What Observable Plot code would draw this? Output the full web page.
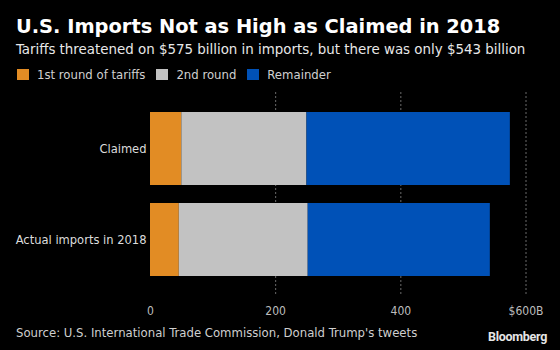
<!DOCTYPE html>
<html>
<head>
<meta charset="utf-8">
<script src="https://cdn.jsdelivr.net/npm/d3@7"></script>
<script src="https://cdn.jsdelivr.net/npm/@observablehq/plot@0.6"></script>
<style>
  html, body { margin: 0; padding: 0; background: #000; }
  #wrap { position: relative; width: 560px; height: 350px; background: #000; overflow: hidden; font-family: "DejaVu Sans Condensed", "DejaVu Sans", sans-serif; }
  .abs { position: absolute; line-height: 1; white-space: nowrap; }
  #title { left: 16px; top: 17px; font-family: "DejaVu Sans", sans-serif; font-weight: bold; font-size: 19.4px; color: #fff; }
  #subtitle { left: 16px; top: 41.5px; font-size: 14.9px; color: #e8e8e8; }
  #legend { left: 17px; top: 68px; font-size: 13px; color: #d0d0d0; display: flex; align-items: center; }
  #legend .item { display: flex; align-items: center; margin-right: 11px; }
  #legend .sw { width: 12px; height: 11px; margin-right: 8px; }
  #chart { position: absolute; left: 0; top: 88px; }
  #source { left: 16px; top: 326px; font-size: 13px; color: #cfcfcf; }
  #logo { right: 13px; top: 331px; font-family: Roboto, "Liberation Sans", sans-serif; font-weight: bold; font-size: 12.5px; color: #e6e6e6; letter-spacing: -0.3px; }
</style>
</head>
<body>
<div id="wrap">
  <div id="title" class="abs"></div>
  <div id="subtitle" class="abs"></div>
  <div id="legend" class="abs"></div>
  <div id="chart"></div>
  <div id="source" class="abs"></div>
  <div id="logo" class="abs">Bloomberg</div>
</div>
<script>
const titleText = "U.S. Imports Not as High as Claimed in 2018";
const subtitleText = "Tariffs threatened on $575 billion in imports, but there was only $543 billion";
const sourceText = "Source: U.S. International Trade Commission, Donald Trump's tweets";

const categories = ["Claimed", "Actual imports in 2018"];
const series = ["1st round of tariffs", "2nd round", "Remainder"];
const claimedValues = [50, 200, 325];
const actualValues = [46, 206, 291];
const xTicks = [0, 200, 400, 600];
const xTickLabels = ["0", "200", "400", "$600B"];
const colors = ["#e28c24", "#c2c2c2", "#0051b7"];

document.getElementById("title").textContent = titleText;
document.getElementById("subtitle").textContent = subtitleText;
document.getElementById("source").textContent = sourceText;

const legend = document.getElementById("legend");
series.forEach((s, i) => {
  const item = document.createElement("div");
  item.className = "item";
  const sw = document.createElement("div");
  sw.className = "sw";
  sw.style.background = colors[i];
  const t = document.createElement("span");
  t.textContent = s;
  item.appendChild(sw);
  item.appendChild(t);
  legend.appendChild(item);
});

const valuesByCategory = [claimedValues, actualValues];
const rows = [];
categories.forEach((c, ci) => {
  series.forEach((s, si) => {
    rows.push({category: c, series: s, value: valuesByCategory[ci][si]});
  });
});

const chart = Plot.plot({
  width: 560,
  height: 232,
  marginTop: 4,
  marginBottom: 24,
  marginLeft: 150,
  marginRight: 34.5,
  style: {background: "#000", color: "#ddd", fontFamily: "'DejaVu Sans Condensed', 'DejaVu Sans', sans-serif"},
  x: {domain: [0, 600]},
  y: {domain: categories, paddingInner: 0.2, paddingOuter: 0.21},
  color: {domain: series, range: colors},
  marks: [
    Plot.gridX(xTicks.filter(d => d !== 0), {stroke: "#6a6a6a", strokeOpacity: 1, strokeWidth: 1, strokeDasharray: "2,2"}),
    Plot.barX(rows, {x: "value", y: "category", fill: "series", order: series}),
    Plot.axisX({ticks: xTicks, tickSize: 0, tickPadding: 10, tickFormat: (d) => xTickLabels[xTicks.indexOf(d)], fontSize: 12, fill: "#bdbdbd", label: null}),
    Plot.axisY({tickSize: 0, tickPadding: 4, fontSize: 12.8, fill: "#dcdcdc", label: null})
  ]
});
document.getElementById("chart").appendChild(chart);
</script>
</body>
</html>
